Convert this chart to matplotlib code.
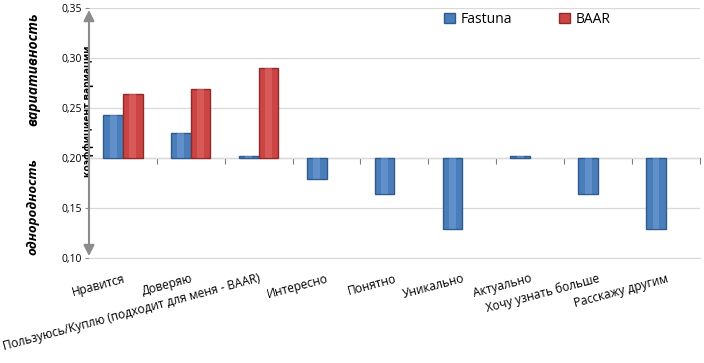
import numpy as np
import matplotlib
matplotlib.use("Agg")
import matplotlib.pyplot as plt
from matplotlib.ticker import FuncFormatter, FixedLocator

plt.rcParams['font.family'] = ['Open Sans', 'DejaVu Sans']

# данные
categories = ['Нравится', 'Доверяю', 'Пользуюсь/Куплю (подходит для меня - BAAR)',
              'Интересно', 'Понятно', 'Уникально', 'Актуально',
              'Хочу узнать больше', 'Расскажу другим']
fastuna = [0.243, 0.225, 0.202, 0.179, 0.164, 0.129, 0.202, 0.164, 0.129]
baar = [0.264, 0.269, 0.290, np.nan, np.nan, np.nan, np.nan, np.nan, np.nan]
yticks = [0.10, 0.15, 0.20, 0.25, 0.30, 0.35]
base = 0.20

fig = plt.figure(figsize=(7.04, 3.63), dpi=100)
ax = fig.add_axes([0.1264, 0.289, 0.8676, 0.689])

x = np.arange(len(categories))
w = 0.29
f = np.array(fastuna)
b = np.array(baar)
ax.bar(x - 0.145, f - base, w, bottom=base, color='#4a7ebb', edgecolor='#2f5a8c',
       linewidth=1.0, label='Fastuna', zorder=3)
ax.bar(x + 0.145, b - base, w, bottom=base, color='#cc4444', edgecolor='#8c2b2a',
       linewidth=1.0, label='BAAR', zorder=3)
# лёгкий блик по центру столбиков
ax.bar(x - 0.145, f - base, w * 0.35, bottom=base, color='#6f9bd4', linewidth=0,
       alpha=0.6, zorder=3.5)
ax.bar(x + 0.145, b - base, w * 0.35, bottom=base, color='#e06a66', linewidth=0,
       alpha=0.6, zorder=3.5)

ax.set_xlim(-0.5, len(categories) - 0.5)
ax.set_ylim(0.10, 0.35)
ax.set_yticks(yticks)
ax.yaxis.set_major_formatter(FuncFormatter(lambda v, p: f'{v:.2f}'.replace('.', ',')))
ax.tick_params(axis='y', labelsize=7.5, length=3, color='#8c8c8c', pad=2)
ax.grid(axis='y', color='#d9d9d9', linewidth=0.9, zorder=0)

for s in ['left', 'right', 'top']:
    ax.spines[s].set_visible(False)
ax.spines['bottom'].set_color('#d9d9d9')

# подписи категорий
ax.set_xticks(x)
ax.set_xticklabels(categories, rotation=15, ha='right', rotation_mode='anchor',
                   fontsize=8.6)
ax.tick_params(axis='x', length=0, pad=10)

# горизонтальная ось на уровне 0,20
sec = ax.secondary_xaxis((base - 0.10) / 0.25)
sec.xaxis.set_major_locator(FixedLocator(np.arange(-0.5, len(categories) + 0.5, 1)))
sec.set_xticklabels([])
sec.tick_params(length=4, color='#7f7f7f', direction='out')
sec.spines['bottom'].set_color('#7f7f7f')

# вертикальная стрелка
ax.annotate('', xy=(-0.5, 0.348), xytext=(-0.5, 0.102),
            arrowprops=dict(arrowstyle='<|-|>', color='#8c8c8c', lw=1.5,
                            mutation_scale=16, shrinkA=0, shrinkB=0),
            annotation_clip=False, zorder=5)

ax.text(-0.5, 0.247, 'коэффициент вариации', rotation=90, ha='center', va='center',
        fontsize=7.4, fontweight='bold', zorder=4)
fig.text(0.047, 0.81, 'вариативность', rotation=90, ha='center', va='center',
         fontsize=10, fontweight='bold', fontstyle='italic')
fig.text(0.047, 0.43, 'однородность', rotation=90, ha='center', va='center',
         fontsize=9.5, fontweight='bold', fontstyle='italic')

ax.legend(loc='upper left', bbox_to_anchor=(0.56, 1.035), ncol=2, frameon=False,
          fontsize=10, handlelength=0.8, handleheight=0.8, columnspacing=3.4,
          handletextpad=0.4)

fig.savefig('out.png', dpi=100)
